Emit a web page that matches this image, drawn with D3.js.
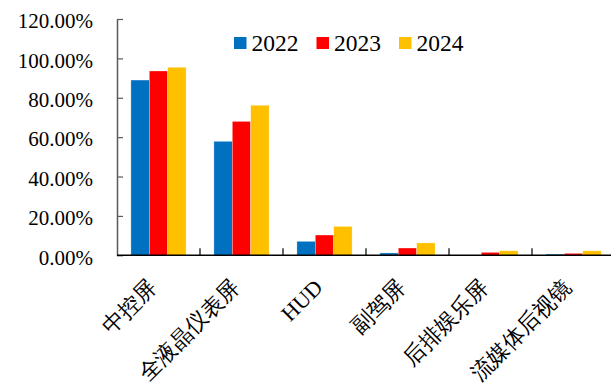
<!DOCTYPE html>
<html>
<head>
<meta charset="utf-8">
<script src="https://cdn.jsdelivr.net/npm/d3@7"></script>
<style>
  body { margin: 0; background: #fff; }
  svg { display: block; }
</style>
</head>
<body>
<div id="chart"></div>
<script>
"use strict";

var categories = ["中控屏", "全液晶仪表屏", "HUD", "副驾屏", "后排娱乐屏", "流媒体后视镜"];
var series = ["2022", "2023", "2024"];
var v2022 = [89.0, 57.9, 7.1, 1.2, 0.0, 0.6];
var v2023 = [93.6, 68.0, 10.3, 3.7, 1.5, 1.0];
var v2024 = [95.5, 76.2, 14.7, 6.3, 2.3, 2.3];
var yTicks = [0, 20, 40, 60, 80, 100, 120];
var colors = ["#0070C0", "#FF0000", "#FFC000"];

var values = [v2022, v2023, v2024];
var serifFont = "Liberation Serif";

var width = 611, height = 385;
var plot = {left: 117, right: 615, top: 19, bottom: 255.3};

var svg = d3.select("#chart").append("svg")
  .attr("width", width)
  .attr("height", height);

// scales
var x0 = d3.scaleBand()
  .domain(categories)
  .range([plot.left, plot.right])
  .paddingInner(0)
  .paddingOuter(0);

var x1 = d3.scaleBand()
  .domain(series)
  .range([0, x0.bandwidth()])
  .paddingInner(0)
  .paddingOuter(0.755);

var y = d3.scaleLinear()
  .domain([0, 120])
  .range([plot.bottom, plot.top]);

// bars
var groups = svg.selectAll(".grp")
  .data(categories)
  .enter().append("g")
  .attr("class", "grp")
  .attr("transform", function(d) { return "translate(" + x0(d) + ",0)"; });

groups.each(function(cat, i) {
  d3.select(this).selectAll("rect")
    .data(series)
    .enter().append("rect")
    .attr("x", function(s) { return x1(s); })
    .attr("width", x1.bandwidth())
    .attr("y", function(s, j) { return y(values[j][i]); })
    .attr("height", function(s, j) { return plot.bottom - y(values[j][i]); })
    .attr("fill", function(s, j) { return colors[j]; })
    .attr("stroke", "#fff")
    .attr("stroke-opacity", 0.5)
    .attr("stroke-width", 0.6);
});

// y axis
var yAxis = d3.axisLeft(y)
  .tickValues(yTicks)
  .tickSizeInner(-6)
  .tickSizeOuter(0)
  .tickPadding(24)
  .tickFormat(function(d) { return d.toFixed(2) + "%"; });

var gy = svg.append("g")
  .attr("transform", "translate(" + plot.left + ",0)")
  .call(yAxis)
  .attr("font-family", serifFont)
  .attr("font-size", 21);
gy.select(".domain").attr("stroke", "#595959").attr("stroke-width", 1.5);
gy.selectAll(".tick line").attr("stroke", "#595959").attr("stroke-width", 1.2);
gy.selectAll(".tick text")
  .attr("fill", "#000")
  .attr("dy", "0.42em");

// x axis line and inner ticks at category boundaries
svg.append("line")
  .attr("x1", plot.left).attr("x2", plot.right)
  .attr("y1", plot.bottom).attr("y2", plot.bottom)
  .attr("stroke", "#000").attr("stroke-width", 1.5);

svg.selectAll(".xtick")
  .data(categories.slice(1))
  .enter().append("line")
  .attr("class", "xtick")
  .attr("x1", function(d) { return x0(d); })
  .attr("x2", function(d) { return x0(d); })
  .attr("y1", plot.bottom)
  .attr("y2", plot.bottom - 7)
  .attr("stroke", "#000").attr("stroke-width", 1.2);

// category labels
svg.selectAll(".xlabel")
  .data(categories)
  .enter().append("text")
  .attr("class", "xlabel")
  .attr("transform", function(d) {
    return "translate(" + (x0(d) + x0.bandwidth() / 2 - 6) + "," + (plot.bottom + 28) + ") rotate(-45)";
  })
  .attr("text-anchor", "end")
  .attr("dy", "0.35em")
  .attr("font-family", serifFont)
  .attr("font-size", 22)
  .attr("fill", "#000")
  .text(function(d) { return d; });

// legend
var legend = svg.append("g").attr("transform", "translate(234,37)");
var item = legend.selectAll(".leg")
  .data(series)
  .enter().append("g")
  .attr("class", "leg")
  .attr("transform", function(d, i) { return "translate(" + (i * 82.5) + ",0)"; });
item.append("rect")
  .attr("width", 12.5).attr("height", 12)
  .attr("fill", function(d, i) { return colors[i]; });
item.append("text")
  .attr("x", 17.5)
  .attr("y", 13.5)
  .attr("font-family", serifFont)
  .attr("font-size", 23.5)
  .attr("fill", "#000")
  .text(function(d) { return d; });
</script>
</body>
</html>
